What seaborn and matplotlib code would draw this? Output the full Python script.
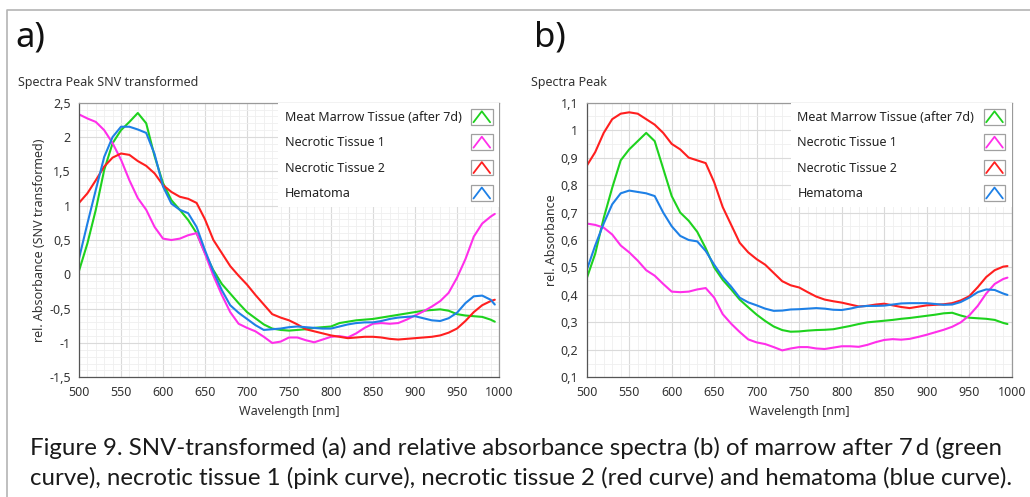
import pandas as pd
import seaborn as sns
from matplotlib import pyplot as plt
from matplotlib.legend_handler import HandlerBase
from matplotlib.lines import Line2D
from matplotlib.patches import Rectangle
from matplotlib.ticker import FuncFormatter, MultipleLocator

# wavelengths (nm) sampled from the figure
wavelength = list(range(500, 1000, 10)) + [995]

samples = ["Meat Marrow Tissue (after 7d)", "Necrotic Tissue 1", "Necrotic Tissue 2", "Hematoma"]
colors = ["#1ed21e", "#ff2fea", "#ff1f1f", "#1e80e6"]

# panel a) SNV transformed
snv_marrow = [0.05, 0.45, 0.94, 1.52, 1.91, 2.10, 2.22, 2.35, 2.20, 1.72,
              1.33, 1.08, 0.94, 0.79, 0.60, 0.31, 0.06, -0.14, -0.28, -0.42,
              -0.55, -0.64, -0.73, -0.79, -0.81, -0.82, -0.81, -0.80, -0.78, -0.77,
              -0.76, -0.71, -0.69, -0.67, -0.66, -0.65, -0.63, -0.61, -0.59, -0.57,
              -0.55, -0.53, -0.52, -0.51, -0.53, -0.58, -0.60, -0.61, -0.62, -0.66, -0.69]
snv_necrotic1 = [2.33, 2.27, 2.22, 2.10, 1.91, 1.67, 1.37, 1.11, 0.94, 0.69,
                 0.52, 0.50, 0.52, 0.57, 0.60, 0.30, -0.02, -0.30, -0.55, -0.72,
                 -0.78, -0.83, -0.91, -1.00, -0.98, -0.92, -0.92, -0.96, -0.99, -0.95,
                 -0.91, -0.90, -0.92, -0.86, -0.78, -0.72, -0.71, -0.72, -0.71, -0.66,
                 -0.60, -0.54, -0.47, -0.39, -0.27, -0.05, 0.22, 0.55, 0.74, 0.84, 0.88]
snv_necrotic2 = [1.04, 1.18, 1.37, 1.57, 1.70, 1.76, 1.74, 1.65, 1.58, 1.47,
                 1.30, 1.20, 1.13, 1.10, 1.04, 0.80, 0.50, 0.31, 0.12, -0.02,
                 -0.15, -0.30, -0.44, -0.58, -0.63, -0.67, -0.73, -0.80, -0.83, -0.86,
                 -0.89, -0.91, -0.93, -0.92, -0.91, -0.91, -0.92, -0.94, -0.95, -0.94,
                 -0.93, -0.92, -0.91, -0.89, -0.85, -0.79, -0.68, -0.55, -0.45, -0.39, -0.37]
snv_hematoma = [0.23, 0.74, 1.23, 1.71, 2.00, 2.15, 2.15, 2.11, 2.06, 1.75,
                1.28, 1.03, 0.94, 0.89, 0.69, 0.35, 0.04, -0.23, -0.45, -0.56,
                -0.65, -0.74, -0.81, -0.80, -0.79, -0.77, -0.76, -0.77, -0.78, -0.79,
                -0.79, -0.76, -0.73, -0.71, -0.70, -0.70, -0.68, -0.65, -0.63, -0.62,
                -0.61, -0.64, -0.67, -0.68, -0.64, -0.56, -0.42, -0.32, -0.31, -0.37, -0.44]

# panel b) relative absorbance
abs_marrow = [0.46, 0.55, 0.68, 0.79, 0.89, 0.93, 0.96, 0.99, 0.96, 0.86,
              0.76, 0.70, 0.67, 0.63, 0.57, 0.50, 0.455, 0.42, 0.383, 0.355,
              0.328, 0.305, 0.285, 0.272, 0.266, 0.267, 0.27, 0.272, 0.273, 0.275,
              0.281, 0.287, 0.294, 0.30, 0.303, 0.306, 0.309, 0.313, 0.316, 0.32,
              0.324, 0.328, 0.333, 0.335, 0.325, 0.317, 0.315, 0.313, 0.309, 0.298, 0.294]
abs_necrotic1 = [0.66, 0.655, 0.645, 0.62, 0.58, 0.555, 0.525, 0.49, 0.47, 0.44,
                 0.412, 0.41, 0.412, 0.42, 0.425, 0.39, 0.33, 0.295, 0.265, 0.238,
                 0.227, 0.221, 0.21, 0.198, 0.205, 0.21, 0.21, 0.205, 0.203, 0.208,
                 0.213, 0.213, 0.211, 0.218, 0.228, 0.236, 0.239, 0.237, 0.24, 0.247,
                 0.255, 0.264, 0.273, 0.284, 0.30, 0.325, 0.36, 0.405, 0.44, 0.458, 0.463]
abs_necrotic2 = [0.87, 0.92, 0.99, 1.04, 1.06, 1.065, 1.06, 1.04, 1.02, 0.99,
                 0.95, 0.93, 0.90, 0.89, 0.88, 0.81, 0.72, 0.655, 0.59, 0.555,
                 0.53, 0.51, 0.48, 0.45, 0.435, 0.427, 0.41, 0.394, 0.383, 0.377,
                 0.372, 0.365, 0.358, 0.36, 0.365, 0.368, 0.362, 0.356, 0.352, 0.357,
                 0.362, 0.364, 0.366, 0.37, 0.38, 0.395, 0.428, 0.465, 0.49, 0.503, 0.505]
abs_hematoma = [0.49, 0.58, 0.66, 0.73, 0.77, 0.78, 0.775, 0.77, 0.76, 0.70,
                0.65, 0.615, 0.60, 0.595, 0.56, 0.51, 0.465, 0.43, 0.39, 0.373,
                0.362, 0.35, 0.342, 0.343, 0.347, 0.348, 0.35, 0.352, 0.35, 0.346,
                0.345, 0.35, 0.357, 0.36, 0.36, 0.361, 0.365, 0.369, 0.37, 0.37,
                0.37, 0.367, 0.364, 0.365, 0.374, 0.39, 0.41, 0.42, 0.418, 0.405, 0.40]

x_ticks = [500, 550, 600, 650, 700, 750, 800, 850, 900, 950, 1000]
caption = ("Figure 9. SNV-transformed (a) and relative absorbance spectra (b) of marrow after 7\u2009d (green\n"
           "curve), necrotic tissue 1 (pink curve), necrotic tissue 2 (red curve) and hematoma (blue curve).")

FS = 9


class CaretHandler(HandlerBase):
    def create_artists(self, legend, orig_handle, xdescent, ydescent, width, height, fontsize, trans):
        x0, y0 = -xdescent, -ydescent
        box = Rectangle((x0, y0), width, height, facecolor="white", edgecolor="#a0a0a0",
                        lw=0.9, transform=trans)
        caret = Line2D([x0 + 0.12 * width, x0 + 0.5 * width, x0 + 0.88 * width],
                       [y0 + 0.15 * height, y0 + 0.85 * height, y0 + 0.15 * height],
                       color=orig_handle.get_color(), lw=1.3, transform=trans)
        return [box, caret]


def comma_fmt(v, pos):
    return f"{round(v, 2):g}".replace(".", ",")


def make_frame(series):
    rows = []
    for name, values in zip(samples, series):
        for w, v in zip(wavelength, values):
            rows.append({"wavelength": w, "value": v, "sample": name})
    return pd.DataFrame(rows)


def style_axis(ax, ylim, ymajor, yminor, ylabel, ylabel_x):
    ax.set_xlim(500, 1000)
    ax.set_ylim(*ylim)
    ax.set_xticks(x_ticks)
    ax.yaxis.set_major_locator(MultipleLocator(ymajor))
    ax.xaxis.set_minor_locator(MultipleLocator(10))
    ax.yaxis.set_minor_locator(MultipleLocator(yminor))
    ax.yaxis.set_major_formatter(FuncFormatter(comma_fmt))
    ax.grid(which="major", color="#dadada", lw=0.8)
    ax.grid(which="minor", color="#efefef", lw=0.6)
    ax.set_axisbelow(True)
    ax.tick_params(which="major", direction="out", length=3, width=0.8, color="#666666",
                   labelsize=FS, labelcolor="#333333", pad=3)
    ax.tick_params(which="minor", length=0)
    for side in ["top", "right"]:
        ax.spines[side].set_color("#9a9a9a")
    for side in ["left", "bottom"]:
        ax.spines[side].set_color("#555555")
    for sp in ax.spines.values():
        sp.set_linewidth(0.9)
    ax.set_xlabel("Wavelength [nm]", fontsize=FS, color="#333333")
    ax.set_ylabel(ylabel, fontsize=FS, color="#333333")
    ax.xaxis.set_label_coords(0.5, -0.125)
    ax.xaxis.label.set_va("center")
    ax.yaxis.set_label_coords(ylabel_x, 0.5)
    ax.yaxis.label.set_va("center")

    handles = [Line2D([], [], color=c) for c in colors]
    return ax.legend(handles, samples, handler_map={Line2D: CaretHandler()}, loc="upper right",
                     bbox_to_anchor=(1.0, 1.0), borderaxespad=0.0, borderpad=0.5,
                     markerfirst=False, fontsize=FS, handlelength=1.75, handleheight=1.55,
                     handletextpad=0.75, labelspacing=0.78, frameon=True, facecolor="white",
                     edgecolor="none", framealpha=1.0, fancybox=False, labelcolor="#222222")


def left_align_legend(fig, leg):
    # labels sit left with the icons in one column on the right, as in the original
    renderer = fig.canvas.get_renderer()
    items = [item for col in leg._legend_handle_box.get_children() for item in col.get_children()]
    widths = [item.get_children()[0].get_window_extent(renderer).width for item in items]
    wmax = max(widths)
    px_to_pt = 72.0 / fig.dpi
    for item, w in zip(items, widths):
        item.sep = item.sep + (wmax - w) * px_to_pt


sns.set_theme(style="white")
plt.rcParams["font.family"] = ["Noto Sans", "DejaVu Sans"]

fig = plt.figure(figsize=(10.3, 4.97), dpi=100)
ax_a = fig.add_axes([79 / 1030, 1 - 377.3 / 497, 420 / 1030, 274.6 / 497])
ax_b = fig.add_axes([586.7 / 1030, 1 - 377.3 / 497, 425 / 1030, 274.6 / 497])

palette = dict(zip(samples, colors))
df_a = make_frame([snv_marrow, snv_necrotic1, snv_necrotic2, snv_hematoma])
df_b = make_frame([abs_marrow, abs_necrotic1, abs_necrotic2, abs_hematoma])

sns.lineplot(data=df_a, x="wavelength", y="value", hue="sample", palette=palette,
             linewidth=1.5, legend=False, ax=ax_a)
sns.lineplot(data=df_b, x="wavelength", y="value", hue="sample", palette=palette,
             linewidth=1.5, legend=False, ax=ax_b)

leg_a = style_axis(ax_a, (-1.5, 2.5), 0.5, 0.1, "rel. Absorbance (SNV transformed)", -0.095)
leg_b = style_axis(ax_b, (0.1, 1.1), 0.1, 0.05, "rel. Absorbance", -0.082)

# panel letters and titles
fig.text(15 / 1030, 1 - 47 / 497, "a)", fontsize=25, color="#111111", va="baseline")
fig.text(534 / 1030, 1 - 47 / 497, "b)", fontsize=25, color="#111111", va="baseline")
fig.text(18 / 1030, 1 - 86 / 497, "Spectra Peak SNV transformed", fontsize=FS,
         color="#333333", va="baseline")
fig.text(531 / 1030, 1 - 86 / 497, "Spectra Peak", fontsize=FS, color="#333333", va="baseline")

# outer frame (top and left edges)
fig.add_artist(Line2D([7 / 1030, 7 / 1030, 1.0], [0.0, 1 - 10 / 497, 1 - 10 / 497],
                      transform=fig.transFigure, color="#b4b4b4", lw=1.2))

fig.text(30 / 1030, 1 - 463 / 497, caption, fontsize=17.3, family=["Lato", "DejaVu Sans"],
         color="#1a1a1a", va="center", ha="left", linespacing=1.42)

fig.canvas.draw()
left_align_legend(fig, leg_a)
left_align_legend(fig, leg_b)

fig.savefig("out.png", dpi=100)
